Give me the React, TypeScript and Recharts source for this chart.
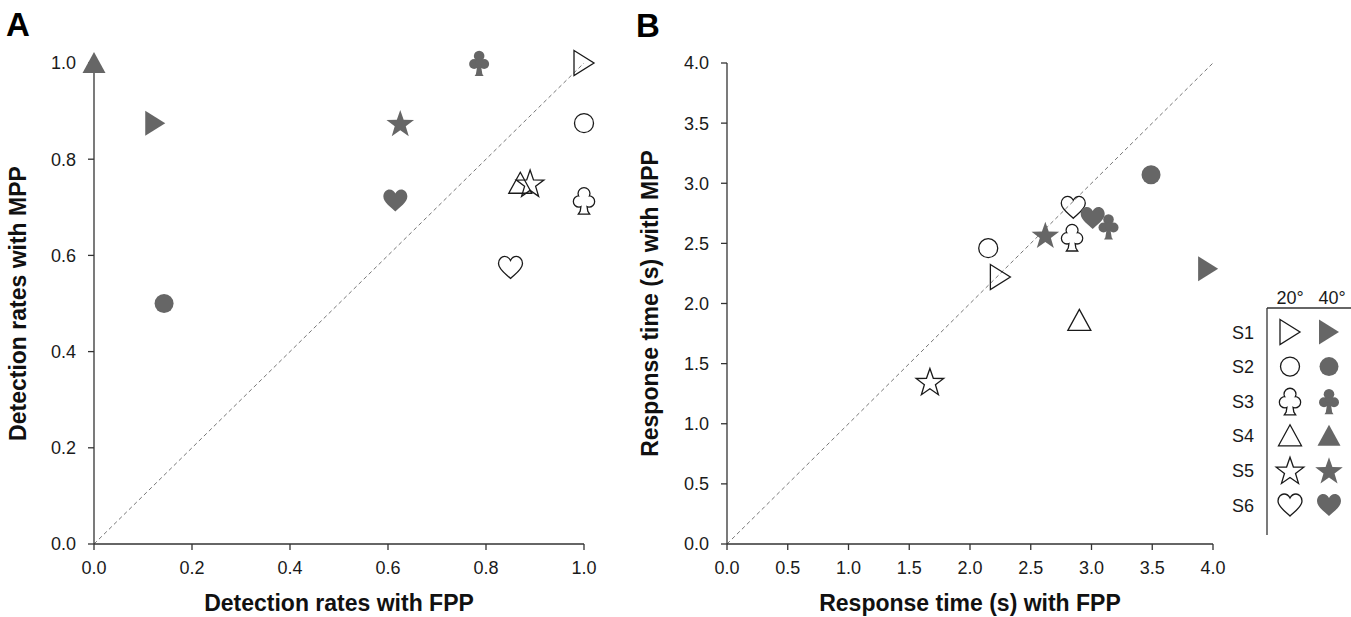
import React from "react";
import {
  ScatterChart,
  Scatter,
  XAxis,
  YAxis,
  ReferenceLine,
  Customized,
} from "recharts";

const subjects = ["S1", "S2", "S3", "S4", "S5", "S6"];
const markerKinds = ["rtri", "circle", "club", "tri", "star", "heart"];
const conditions = ["20°", "40°"];

// panel A: detection rates (FPP on x, MPP on y)
const detFpp20 = [1.0, 1.0, 1.0, 0.87, 0.89, 0.85];
const detMpp20 = [1.0, 0.875, 0.714, 0.75, 0.75, 0.575];
const detFpp40 = [0.125, 0.143, 0.786, 0.0, 0.625, 0.615];
const detMpp40 = [0.875, 0.5, 1.0, 1.0, 0.875, 0.714];
const detTicks = [0, 0.2, 0.4, 0.6, 0.8, 1.0];

// panel B: response time in seconds (S4 at 40° has no point)
const rtFpp20 = [2.25, 2.15, 2.84, 2.9, 1.67, 2.85];
const rtMpp20 = [2.22, 2.46, 2.55, 1.86, 1.35, 2.8];
const rtFpp40 = [3.96, 3.49, 3.14, null, 2.62, 3.01];
const rtMpp40 = [2.29, 3.07, 2.64, null, 2.57, 2.71];
const rtTicks = [0, 0.5, 1, 1.5, 2, 2.5, 3, 3.5, 4];

const GREY = "#666666";
const INK = "#1a1a1a";
const AXIS = "#333333";
const FONT = "'Liberation Sans', Arial, Helvetica, sans-serif";

const tickStyle = { fontSize: 18, fill: INK, fontFamily: FONT };
const titleStyle = {
  fontSize: 23,
  fontWeight: 700,
  fill: "#111",
  fontFamily: FONT,
  textAnchor: "middle" as const,
};

function buildPoints(xs: (number | null)[], ys: (number | null)[]) {
  return subjects
    .map((s, i) => ({ subject: s, kind: markerKinds[i], x: xs[i], y: ys[i] }))
    .filter((d) => d.x != null && d.y != null);
}

function starPoints(R: number, r: number) {
  const pts: string[] = [];
  for (let k = 0; k < 10; k++) {
    const rad = k % 2 === 0 ? R : r;
    const a = -Math.PI / 2 + (k * Math.PI) / 5;
    pts.push(`${(rad * Math.cos(a)).toFixed(2)},${(rad * Math.sin(a) + 1.3).toFixed(2)}`);
  }
  return pts.join(" ");
}

const HEART =
  "M0 10 C-4 6 -12 1 -12 -5 C-12 -9.5 -8.5 -12 -6 -12 C-3 -12 -1 -10 0 -8 " +
  "C1 -10 3 -12 6 -12 C8.5 -12 12 -9.5 12 -5 C12 1 4 6 0 10 Z";

function clubParts() {
  return (
    <>
      <circle cx={0} cy={-7} r={5.3} />
      <circle cx={-5} cy={1} r={5} />
      <circle cx={5} cy={1} r={5} />
      <circle cx={0} cy={-0.5} r={3.5} />
      <polygon points="-1.6,1 1.6,1 3.2,11 4.5,13 -4.5,13 -3.2,11" />
    </>
  );
}

function Marker({ cx, cy, kind, filled }: { cx: number; cy: number; kind: string; filled: boolean }) {
  const fill = filled ? GREY : "none";
  const stroke = filled ? "none" : INK;
  const sw = 1.3;
  const t = `translate(${cx},${cy})`;
  switch (kind) {
    case "rtri":
      return <polygon transform={t} points="-10,-12.5 10,0 -10,12.5" fill={fill} stroke={stroke} strokeWidth={sw} />;
    case "tri":
      return <polygon transform={t} points="0,-11 11.5,10 -11.5,10" fill={fill} stroke={stroke} strokeWidth={sw} />;
    case "circle":
      return <circle cx={cx} cy={cy} r={9.5} fill={fill} stroke={stroke} strokeWidth={sw} />;
    case "star":
      return <polygon transform={t} points={starPoints(14.5, 5.8)} fill={fill} stroke={stroke} strokeWidth={sw} />;
    case "heart":
      return <path transform={`translate(${cx},${cy + 1})`} d={HEART} fill={fill} stroke={stroke} strokeWidth={sw} />;
    case "club":
      if (filled) {
        return <g transform={t} fill={GREY}>{clubParts()}</g>;
      }
      return (
        <g transform={t}>
          <g fill={INK} stroke={INK} strokeWidth={2.6}>{clubParts()}</g>
          <g fill="#fff">{clubParts()}</g>
        </g>
      );
    default:
      return null;
  }
}

function openShape(p: any) {
  return <Marker cx={p.cx} cy={p.cy} kind={p.payload.kind} filled={false} />;
}
function filledShape(p: any) {
  return <Marker cx={p.cx} cy={p.cy} kind={p.payload.kind} filled />;
}

function LegendTable() {
  const lineX = 647;
  const topY = 308;
  const openX = 670;
  const fillX = 709;
  const textStyle = { fontSize: 18, fill: INK, fontFamily: FONT };
  return (
    <g>
      <text x={openX} y={304} textAnchor="middle" style={textStyle}>{conditions[0]}</text>
      <text x={fillX + 3} y={304} textAnchor="middle" style={textStyle}>{conditions[1]}</text>
      <line x1={lineX} y1={topY} x2={731} y2={topY} stroke={AXIS} strokeWidth={1.3} />
      <line x1={lineX} y1={topY} x2={lineX} y2={535} stroke={AXIS} strokeWidth={1.3} />
      {subjects.map((s, i) => {
        const cy = 332 + i * 34.6;
        return (
          <g key={s}>
            <text x={634} y={cy + 6.5} textAnchor="end" style={textStyle}>{s}</text>
            <Marker cx={openX} cy={cy} kind={markerKinds[i]} filled={false} />
            <Marker cx={fillX} cy={cy} kind={markerKinds[i]} filled />
          </g>
        );
      })}
    </g>
  );
}

function PanelLetter({ x, y, text }: { x: number; y: number; text: string }) {
  return (
    <text x={x} y={y} style={{ fontSize: 33, fontWeight: 700, fill: "#000", fontFamily: FONT }}>
      {text}
    </text>
  );
}

export default function App() {
  const a20 = buildPoints(detFpp20, detMpp20);
  const a40 = buildPoints(detFpp40, detMpp40);
  const b20 = buildPoints(rtFpp20, rtMpp20);
  const b40 = buildPoints(rtFpp40, rtMpp40);

  return (
    <div style={{ position: "absolute", left: 0, top: 0, width: 1351, height: 617, background: "#fff" }}>
      <div style={{ position: "absolute", left: 0, top: 0 }}>
        <ScatterChart width={620} height={617} margin={{ top: 63, right: 36, bottom: 3, left: 0 }}>
          <XAxis
            type="number"
            dataKey="x"
            domain={[0, 1]}
            ticks={detTicks}
            interval={0}
            tickFormatter={(v) => v.toFixed(1)}
            height={70}
            tickSize={6}
            tickMargin={11}
            tick={tickStyle}
            axisLine={{ stroke: AXIS, strokeWidth: 1.3 }}
            tickLine={{ stroke: AXIS, strokeWidth: 1.3 }}
            label={{ value: "Detection rates with FPP", position: "insideBottom", offset: 3, style: titleStyle }}
          />
          <YAxis
            type="number"
            dataKey="y"
            domain={[0, 1]}
            ticks={detTicks}
            interval={0}
            tickFormatter={(v) => v.toFixed(1)}
            width={94}
            tickSize={6}
            tickMargin={12}
            tick={tickStyle}
            axisLine={{ stroke: AXIS, strokeWidth: 1.3 }}
            tickLine={{ stroke: AXIS, strokeWidth: 1.3 }}
            label={{ value: "Detection rates with MPP", angle: -90, position: "insideLeft", offset: 18, style: titleStyle }}
          />
          <ReferenceLine
            segment={[{ x: 0, y: 0 }, { x: 1, y: 1 }]}
            stroke="#777"
            strokeWidth={1}
            strokeDasharray="4 3"
          />
          <Scatter data={a20} shape={openShape} isAnimationActive={false} />
          <Scatter data={a40} shape={filledShape} isAnimationActive={false} />
          <Customized component={() => <PanelLetter x={6} y={36} text="A" />} />
        </ScatterChart>
      </div>
      <div style={{ position: "absolute", left: 620, top: 0 }}>
        <ScatterChart width={731} height={617} margin={{ top: 63, right: 138, bottom: 3, left: 0 }}>
          <XAxis
            type="number"
            dataKey="x"
            domain={[0, 4]}
            ticks={rtTicks}
            interval={0}
            tickFormatter={(v) => v.toFixed(1)}
            height={70}
            tickSize={6}
            tickMargin={11}
            tick={tickStyle}
            axisLine={{ stroke: AXIS, strokeWidth: 1.3 }}
            tickLine={{ stroke: AXIS, strokeWidth: 1.3 }}
            label={{ value: "Response time (s) with FPP", position: "insideBottom", offset: 3, style: titleStyle }}
          />
          <YAxis
            type="number"
            dataKey="y"
            domain={[0, 4]}
            ticks={rtTicks}
            interval={0}
            tickFormatter={(v) => v.toFixed(1)}
            width={107}
            tickSize={6}
            tickMargin={12}
            tick={tickStyle}
            axisLine={{ stroke: AXIS, strokeWidth: 1.3 }}
            tickLine={{ stroke: AXIS, strokeWidth: 1.3 }}
            label={{ value: "Response time (s) with MPP", angle: -90, position: "insideLeft", offset: 30, style: titleStyle }}
          />
          <ReferenceLine
            segment={[{ x: 0, y: 0 }, { x: 4, y: 4 }]}
            stroke="#777"
            strokeWidth={1}
            strokeDasharray="4 3"
          />
          <Scatter data={b20} shape={openShape} isAnimationActive={false} />
          <Scatter data={b40} shape={filledShape} isAnimationActive={false} />
          <Customized component={() => <PanelLetter x={16} y={37} text="B" />} />
          <Customized component={LegendTable} />
        </ScatterChart>
      </div>
    </div>
  );
}
